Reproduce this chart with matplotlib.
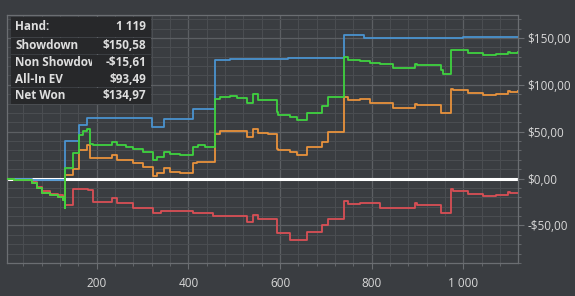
import matplotlib.pyplot as plt
from matplotlib.patches import Rectangle
from matplotlib.ticker import FuncFormatter, MultipleLocator

# cumulative winnings per hand (stepped lines)
showdown_hands = [5, 59, 131, 162, 179, 321, 347, 410, 458, 491, 618, 740, 782, 1000, 1119]
showdown_vals = [0, -1.6, 40, 57, 65, 54.5, 64, 74, 127, 128, 129, 153.5, 150, 151, 150.58]

netwon_hands = [5, 20, 39, 59, 70, 81, 98, 116, 127, 130, 131, 148, 162, 170, 179, 186,
                192, 234, 245, 265, 279, 301, 323, 332, 347, 360, 382, 410, 420, 437,
                458, 470, 490, 506, 528, 541, 552, 574, 594, 596, 622, 637, 659, 692,
                705, 740, 749, 775, 797, 819, 847, 895, 899, 950, 956, 972, 978, 1009,
                1043, 1070, 1098, 1102, 1119]
netwon_vals = [0, -1, -2, -5, -10.4, -15, -17.5, -19.4, -23, -31.7, 10.8, 26.8, 46.5, 51,
               53.4, 37.4, 35.6, 39, 35.6, 33.8, 32, 28.5, 19.7, 23, 28.5, 26, 25, 33.8,
               35.6, 33.8, 85.3, 87, 88, 86.4, 80.7, 90.6, 84.2, 83.5, 71, 67.5, 65.8,
               63, 70, 77, 87, 129.6, 126, 125.5, 123, 121.8, 117.5, 121.8, 120.8, 115.4,
               112, 137.5, 136.7, 134, 131.4, 132.5, 135, 134, 134.97]

allin_hands = [5, 20, 39, 59, 70, 81, 98, 116, 127, 130, 131, 148, 162, 179, 186, 234,
               245, 279, 301, 323, 332, 347, 360, 382, 410, 419, 458, 470, 506, 528,
               541, 552, 574, 594, 596, 622, 637, 659, 692, 705, 740, 749, 775, 797,
               847, 895, 899, 950, 972, 978, 1009, 1043, 1070, 1098, 1102, 1119]
allin_vals = [0, -1, -2, -5, -10.4, -15, -17.5, -19.4, -23, -31.7, 3.7, 10, 30, 35.6,
              21.5, 25, 19.7, 16.2, 12.6, 2.7, 5.5, 10.8, 7.2, 6, 16.2, 17.9, 48, 50.5,
              50.5, 44.5, 53.4, 48.7, 48, 32, 30.3, 28.5, 25, 33.8, 39, 49.8, 87, 83.5,
              85.3, 81, 75, 80, 78.2, 70, 96, 95, 91, 88.8, 90, 93.4, 92.3, 93.49]

nonsd_hands = [5, 20, 39, 59, 70, 81, 98, 116, 127, 130, 148, 181, 192, 234, 245, 279,
               323, 340, 410, 454, 524, 528, 541, 552, 594, 622, 659, 692, 705, 740,
               749, 775, 819, 895, 899, 950, 972, 978, 1009, 1043, 1070, 1098, 1102, 1119]
nonsd_vals = [0, -1, -2, -3.4, -8.8, -13.4, -15.9, -17.8, -21.4, -28, -11.5, -12.2,
              -24.7, -21, -26.4, -31.4, -36.4, -34.6, -37, -40, -40, -46, -38.8, -43.5,
              -58.3, -65.4, -57, -49.5, -43.5, -23.6, -26.8, -26, -31, -26.4, -28.2,
              -36.7, -11.5, -13, -16.5, -18.6, -17, -14, -15.7, -15.61]

summary_labels = ["Hand:", "Showdown", "Non Showdown", "All-In EV", "Net Won"]
summary_values = ["1 119", "$150,58", "-$15,61", "$93,49", "$134,97"]

bg = "#3a3d41"
W, H = 575, 296

fig = plt.figure(figsize=(W / 100, H / 100), dpi=100, facecolor=bg)
ax = fig.add_axes([7.3 / W, 1 - 263 / H, (518 - 7.3) / W, (263 - 14.5) / H])
ax.set_facecolor(bg)

ax.axhline(0, color="white", lw=2.2, zorder=2)
ax.plot(nonsd_hands, nonsd_vals, drawstyle="steps-post", color="#d94f55", lw=1.3, zorder=3)
ax.plot(showdown_hands, showdown_vals, drawstyle="steps-post", color="#4a93cf", lw=1.3, zorder=4)
ax.plot(allin_hands, allin_vals, drawstyle="steps-post", color="#e8923c", lw=1.3, zorder=5)
ax.plot(netwon_hands, netwon_vals, drawstyle="steps-post", color="#3fd23f", lw=1.3, zorder=6)

ax.set_xlim(5, 1119)
ax.set_ylim(-90, 175)
ax.xaxis.set_major_locator(MultipleLocator(200))
ax.xaxis.set_minor_locator(MultipleLocator(40))
ax.yaxis.set_major_locator(MultipleLocator(50))
ax.yaxis.set_minor_locator(MultipleLocator(10))
ax.grid(which="major", color="#5c5f63", lw=0.9, zorder=0)
ax.grid(which="minor", color="#4a4d51", lw=0.8, zorder=0)
ax.set_axisbelow(True)


def money(v, pos):
    s = f"${abs(v):.2f}".replace(".", ",")
    return "-" + s if v < 0 else s


def hands(v, pos):
    return f"{int(v):,}".replace(",", " ")


ax.yaxis.set_major_formatter(FuncFormatter(money))
ax.xaxis.set_major_formatter(FuncFormatter(hands))
ax.yaxis.tick_right()
ax.tick_params(axis="both", which="both", colors="#6b6e72", labelcolor="#d8d8d8",
               labelsize=8.5, direction="out")
ax.tick_params(axis="y", which="major", length=4, pad=3)
ax.tick_params(axis="y", which="minor", length=2)
ax.tick_params(axis="x", which="major", length=4, pad=6)
ax.tick_params(axis="x", which="minor", length=2.5)
for lbl in ax.get_xticklabels() + ax.get_yticklabels():
    lbl.set_fontfamily("Open Sans")
for sp in ax.spines.values():
    sp.set_color("#6b6e72")
    sp.set_linewidth(0.9)

# summary box in the upper left corner
box_l, box_r = 10.7, 150.7
rows = [(16.7, 37), (37, 54), (54, 71), (71, 87.5), (87.5, 104)]
for (top, bot) in rows:
    fig.patches.append(Rectangle((box_l / W, 1 - (bot - 0.5) / H), (box_r - box_l) / W,
                                 (bot - top - 1) / H, transform=fig.transFigure,
                                 facecolor="#27282a", edgecolor="none", zorder=10))
clip = Rectangle((box_l / W, 1 - 104 / H), (92 - box_l) / W, 88 / H,
                 transform=fig.transFigure)
for (top, bot), name, val in zip(rows, summary_labels, summary_values):
    yc = 1 - (top + bot) / 2 / H
    t = fig.text(15 / W, yc, name, color="#dedede", fontsize=8.5, fontweight="bold",
                 family="Open Sans", va="center", ha="left", zorder=11)
    t.set_clip_path(clip)
    fig.text(146 / W, yc, val, color="#dedede", fontsize=8.5, fontweight="bold",
             family="Open Sans", va="center", ha="right", zorder=11)

fig.savefig("out.png", dpi=100, facecolor=bg)
